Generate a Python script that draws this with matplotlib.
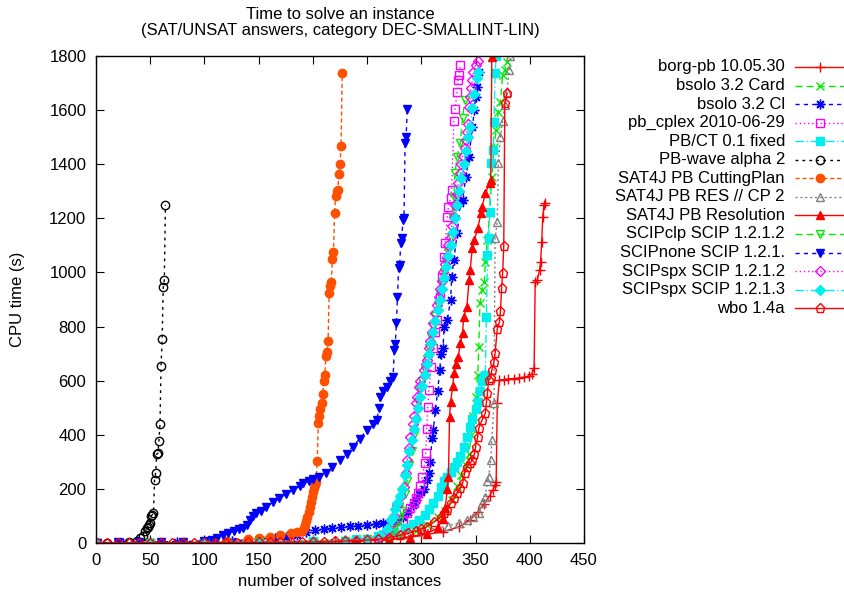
import matplotlib
matplotlib.use("Agg")
import matplotlib.pyplot as plt

# ---------------- data (x = number of solved instances, y = CPU time s) ----------------
labels = ["borg-pb 10.05.30", "bsolo 3.2 Card", "bsolo 3.2 Cl", "pb_cplex 2010-06-29",
          "PB/CT 0.1 fixed", "PB-wave alpha 2", "SAT4J PB CuttingPlan", "SAT4J PB RES // CP 2",
          "SAT4J PB Resolution", "SCIPclp SCIP 1.2.1.2", "SCIPnone SCIP 1.2.1.", "SCIPspx SCIP 1.2.1.2",
          "SCIPspx SCIP 1.2.1.3", "wbo 1.4a"]

borg_pts = [(1,0.3),(20,0.5),(40,0.7),(60,0.9),(80,1.1),(100,1.4),(120,1.8),(140,2.2),(160,2.8),
            (180,3.5),(200,4.5),(220,6),(240,8),(260,12),(280,18),(300,28),(320,42),(335,60),(345,85),
            (352,115),(358,145),(363,175),(366,196),(368,215),(369,227),(370,516),(372,602),(376,604),
            (380,606),(385,608),(390,610),(395,613),(399,617),(402,625),(404,645),(405,966),(407,972),
            (409,1009),(410,1040),(411,1114),(412,1206),(413,1250),(414,1258)]
bsolo_card_pts = [(1,0.3),(50,0.6),(100,1.2),(150,2.5),(200,5),(240,10),(265,18),(280,28),(295,45),
                  (305,65),(315,95),(322,120),(328,160),(333,210),(337,250),(341,290),(344,330),(346,400),
                  (348,470),(350,541),(352,620),(353,725),(354,886),(356,935),(358,966),(359,1040),
                  (361,1120),(363,1220),(365,1354),(367,1465),(369,1526),(371,1594),(373,1631),(375,1730),
                  (377,1750),(379,1779)]
bsolo_cl_pts = [(1,0.5),(25,1),(50,2),(75,3),(100,5),(125,8),(150,14),(165,18),(175,22),(185,28),
                (194,40),(202,48),(210,52),(218,55),(226,58),(234,61),(242,64),(250,67),(258,70),
                (265,73),(271,76),(276,79),(283,95),(288,115),(292,140),(295,160),(298,180),(300,190),
                (302,200),(305,233),(307,257),(308,300),(310,388),(311,418),(313,491),(315,560),(317,639),
                (318,700),(320,720),(321,800),(324,824),(327,900),(328,984),(330,1046),(333,1144),
                (336,1255),(338,1267),(341,1354),(344,1428),(347,1538),(349,1600),(350,1650),(351,1686),
                (353,1742)]
pb_cplex_pts = [(1,0.3),(50,0.5),(100,1),(150,2),(200,4),(240,8),(260,18),(270,35),(278,60),(283,85),
                (287,110),(290,130),(293,147),(295,165),(297,184),(299,210),(301,245),(303,294),(304,331),
                (305,420),(306,504),(307,565),(309,650),(311,720),(313,780),(314,824),(317,910),(319,984),
                (321,1058),(322,1108),(324,1206),(325,1243),(327,1275),(328,1305),(330,1560),(331,1603),
                (333,1668),(334,1712),(335,1730),(336,1766)]
pbct_pts = [(1,0.5),(50,1),(100,2),(150,4),(200,8),(240,15),(260,25),(275,40),(285,55),(292,70),
            (298,85),(303,105),(307,125),(311,147),(315,175),(318,208),(321,228),(324,245),(327,262),
            (330,280),(333,300),(336,320),(339,355),(342,393),(345,430),(347,460),(350,495),(352,520),
            (354,560),(356,600),(358,615),(359,620),(360,834),(361,1064),(362,1126),(363,1224),
            (364,1403),(366,1452),(367,1557),(368,1736),(369,1800)]
pbwave_pts = [(1,0.5),(10,1),(20,1.5),(30,3),(38,8),(41,20),(43,25),(45,45),(47,55),(48,60),(49,65),
              (50,75),(51,100),(52,105),(53,110),(54,233),(55,260),(56,329),(57,331),(58,377),(59,440),
              (60,655),(61,754),(62,947),(63,972),(64,1250)]
cutting_pts = [(1,0.5),(20,1),(40,1.5),(60,2),(80,3),(100,4),(120,8),(140,14),(150,18),(160,24),
               (170,30),(180,38),(185,42),(190,45),(192,55),(193,65),(194,80),(195,95),(196,115),
               (197,134),(198,150),(199,171),(200,190),(201,205),(202,215),(203,227),(204,304),(205,442),
               (206,470),(207,497),(208,516),(209,549),(210,600),(211,621),(212,690),(213,707),(214,746),
               (215,923),(216,950),(217,966),(218,1050),(219,1074),(220,1220),(221,1282),(222,1300),
               (223,1305),(224,1365),(225,1400),(226,1467),(227,1739)]
rescp_pts = [(1,0.3),(50,0.6),(100,1.5),(150,3),(200,8),(240,15),(265,25),(285,38),(300,46),(315,55),
             (325,64),(335,74),(342,85),(348,97),(353,110),(356,147),(359,171),(361,229),(362,245),
             (364,307),(365,381),(367,516),(368,1126),(370,1187),(371,1403),(373,1502),(375,1560),
             (377,1620),(379,1668),(381,1748),(382,1800)]
resolution_pts = [(1,0.2),(50,0.4),(100,0.8),(150,1.5),(200,3),(240,6),(270,12),(290,20),(305,35),
                  (315,55),(320,90),(322,130),(324,200),(325,245),(326,467),(327,522),(329,580),(330,627),
                  (332,660),(334,688),(336,738),(338,775),(339,836),(342,873),(344,972),(345,1009),
                  (347,1089),(349,1120),(352,1163),(355,1218),(356,1243),(359,1292),(363,1330),
                  (364,1341),(365,1797)]
scipclp_pts = [(1,0.3),(50,0.6),(100,1.2),(150,2.5),(200,5),(230,9),(250,14),(262,20),(270,30),(275,50),
               (279,80),(282,120),(285,180),(287,230),(289,290),(291,340),(293,400),(295,450),(297,520),
               (299,565),(301,600),(303,640),(305,680),(307,720),(309,760),(311,800),(313,840),(315,880),
               (317,920),(319,960),(321,1000),(323,1040),(325,1080),(327,1130),(329,1200),(330,1280),
               (331,1367),(333,1428),(336,1480),(338,1570),(340,1637)]
scipnone_pts = [(1,1),(20,2),(40,3),(60,4),(80,5),(100,8),(107,12),(112,20),(117,30),(122,38),(127,45),
                (132,50),(136,55),(139,65),(142,85),(145,100),(148,110),(152,120),(157,134),(163,150),
                (169,165),(175,180),(182,196),(188,210),(191,220),(196,228),(200,235),(206,245),(212,257),
                (218,280),(225,307),(231,330),(237,356),(243,385),(250,418),(255,440),(259,455),(261,500),
                (262,541),(265,560),(268,578),(271,600),(274,615),(275,713),(276,737),(277,812),(278,908),
                (279,1015),(280,1026),(281,1110),(282,1126),(283,1194),(284,1200),(285,1477),(286,1500),
                (287,1604)]
spx1212_pts = [(1,0.3),(50,0.6),(100,1),(150,2),(200,5),(230,9),(250,15),(262,25),(268,45),(272,70),
               (275,100),(278,140),(281,175),(284,208),(286,260),(287,307),(289,350),(290,393),(292,440),
               (293,470),(295,516),(296,540),(298,575),(299,600),(302,640),(304,660),(305,676),(307,720),
               (308,745),(310,780),(311,812),(313,850),(314,880),(316,910),(317,940),(319,970),(320,1000),
               (322,1030),(324,1058),(325,1100),(327,1130),(328,1170),(330,1206),(331,1250),(333,1290),
               (334,1330),(336,1366),(337,1400),(338,1430),(340,1460),(341,1489),(342,1520),(343,1550),
               (344,1612),(345,1650),(346,1680),(347,1710),(348,1740),(350,1766),(352,1780)]
spx1213_pts = [(1,0.3),(50,0.6),(100,1.2),(150,2.5),(200,6),(230,10),(250,16),(262,28),(268,50),(272,85),
               (274,97),(276,125),(278,147),(280,175),(282,200),(285,250),(287,290),(289,340),(291,380),
               (293,420),(295,460),(297,500),(299,540),(301,580),(303,620),(305,660),(307,700),(309,740),
               (311,780),(313,820),(315,860),(317,900),(319,940),(321,980),(323,1020),(325,1060),
               (327,1100),(329,1150),(331,1200),(333,1250),(335,1300),(337,1350),(339,1400),(341,1450),
               (343,1500),(345,1538),(347,1606),(349,1660),(351,1720),(352,1742)]
wbo_pts = [(1,0.3),(10,0.4),(20,0.5),(30,0.6),(40,0.7),(50,0.8),(60,0.9),(70,1),(80,1.1),(90,1.2),
           (100,1.3),(110,1.4),(120,1.6),(130,1.8),(140,2),(150,2.2),(160,2.5),(170,2.8),(180,3.2),
           (190,3.6),(200,4),(210,5),(220,6),(230,7.5),(240,9),(250,11),(260,14),(270,20),(280,28),
           (288,36),(295,45),(300,52),(305,60),(312,78),(318,97),(321,110),(324,122),(327,147),(330,165),
           (333,184),(336,205),(338,220),(340,260),(342,282),(345,295),(347,307),(349,330),(350,356),
           (352,393),(353,424),(356,455),(359,479),(360,520),(361,555),(362,602),(364,609),(365,640),
           (367,670),(368,701),(370,790),(372,818),(373,858),(374,943),(375,999),(376,1098),(377,1625),
           (379,1662)]

series_pts = [borg_pts, bsolo_card_pts, bsolo_cl_pts, pb_cplex_pts, pbct_pts, pbwave_pts, cutting_pts,
              rescp_pts, resolution_pts, scipclp_pts, scipnone_pts, spx1212_pts, spx1213_pts, wbo_pts]

x_ticks = [0, 50, 100, 150, 200, 250, 300, 350, 400, 450]
y_ticks = [0, 200, 400, 600, 800, 1000, 1200, 1400, 1600, 1800]

# ---------------- styles ----------------
RED, GREEN, BLUE, MAG, CYAN = "#ff0000", "#00ee00", "#0000ff", "#ff00ff", "#00eeee"
styles = [
    dict(color=RED, ls="-", marker="+", mfc=RED, ms=7),
    dict(color=GREEN, ls=(0, (5, 3)), marker="x", mfc=GREEN, ms=6),
    dict(color=BLUE, ls=(0, (3, 3)), marker=(8, 2, 0), mfc=BLUE, ms=7),
    dict(color=MAG, ls=(0, (1, 2)), marker="s", mfc="none", ms=6),
    dict(color=CYAN, ls=(0, (6, 2, 1, 2)), marker="s", mfc=CYAN, ms=6),
    dict(color="#000000", ls=(0, (2, 3)), marker="o", mfc="none", ms=6),
    dict(color="#ff5000", ls=(0, (3, 2)), marker="o", mfc="#ff5000", ms=6),
    dict(color="#808080", ls=(0, (1.5, 2)), marker="^", mfc="none", ms=6),
    dict(color=RED, ls="-", marker="^", mfc=RED, ms=6),
    dict(color=GREEN, ls=(0, (5, 3)), marker="v", mfc="none", ms=6),
    dict(color=BLUE, ls=(0, (3, 3)), marker="v", mfc=BLUE, ms=6),
    dict(color=MAG, ls=(0, (1, 2)), marker="D", mfc="none", ms=5),
    dict(color=CYAN, ls=(0, (6, 2, 1, 2)), marker="D", mfc=CYAN, ms=5),
    dict(color=RED, ls="-", marker="p", mfc="none", ms=6.5),
]

FS = 12
plt.rcParams["font.family"] = ["Liberation Sans", "DejaVu Sans"]
plt.rcParams["font.size"] = FS

W, H = 845, 593
fig = plt.figure(figsize=(W / 100, H / 100), dpi=100)
L, R, T, B = 96, 584, 56, 543
ax = fig.add_axes([L / W, 1 - B / H, (R - L) / W, (B - T) / H])

for pts, st in zip(series_pts, styles):
    xs = [p[0] for p in pts]
    ys = [p[1] for p in pts]
    ax.plot(xs, ys, color=st["color"], ls=st["ls"], lw=1.0, marker=st["marker"],
            ms=st["ms"], mfc=st["mfc"], mec=st["color"], mew=1.0)

ax.set_xlim(0, 450)
ax.set_ylim(0, 1800)
ax.set_xticks(x_ticks)
ax.set_yticks(y_ticks)
ax.tick_params(direction="in", length=5.5, width=0.8, top=True, right=True, pad=7,
               labelsize=FS, color="#000000")
for s in ax.spines.values():
    s.set_linewidth(1.0)
ax.set_xlabel("number of solved instances", fontsize=FS)
ax.set_ylabel("CPU time (s)", fontsize=FS)
ax.xaxis.set_label_coords(0.5, -(574 - B) / (B - T))
ax.yaxis.set_label_coords(-(L - 25) / (R - L), 0.5)

fig.text((L + R) / 2 / W, 1 - 7 / H, "Time to solve an instance\n(SAT/UNSAT answers, category DEC-SMALLINT-LIN)",
         ha="center", va="top", fontsize=FS, linespacing=1.1)

# ---------------- legend (manual, gnuplot-like) ----------------
lax = fig.add_axes([0, 0, 1, 1])
lax.set_xlim(0, W)
lax.set_ylim(H, 0)
lax.axis("off")
for i, (lab, st) in enumerate(zip(labels, styles)):
    yy = 67 + i * 18.55
    lax.text(785, yy, lab, ha="right", va="center", fontsize=FS)
    lax.plot([795, 845], [yy, yy], color=st["color"], ls=st["ls"], lw=1.0)
    lax.plot([820], [yy], color=st["color"], marker=st["marker"], ms=st["ms"], mfc=st["mfc"],
             mec=st["color"], mew=1.0, ls="none")

fig.savefig("out.png", dpi=100)
